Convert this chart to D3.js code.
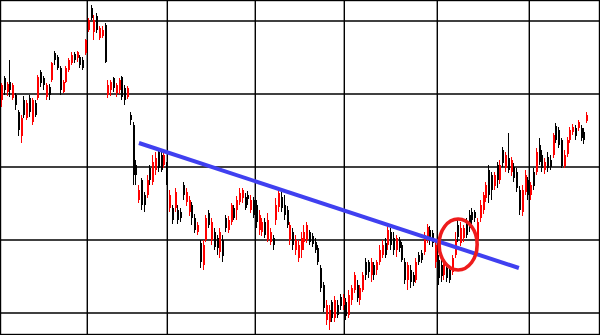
<!DOCTYPE html>
<html><head><meta charset="utf-8">
<script src="https://cdn.jsdelivr.net/npm/d3@7"></script>
<style>html,body{margin:0;padding:0;background:#fff;}svg{display:block;}</style>
</head><body>
<svg id="chart" width="600" height="335"></svg>
<script>
const openP = [31.3,33.5,32.1,33.1,31.5,31.8,30.1,27.7,31.3,29.5,
31.5,29.1,31.0,31.5,34.1,33.5,31.6,32.6,33.3,36.0,
35.6,34.5,32.1,33.1,34.3,35.0,35.9,35.5,35.6,35.3,
36.0,38.3,40.5,38.1,39.7,37.5,37.7,38.8,31.8,32.3,
33.5,32.0,32.3,33.6,32.5,31.6,29.8,28.8,24.8,21.3,
23.3,21.8,21.8,24.5,23.1,24.3,26.1,25.8,24.8,24.8,
20.5,20.5,20.5,20.3,20.1,22.8,21.1,20.1,20.8,19.5,
18.1,17.0,14.8,17.3,20.0,17.3,18.1,17.5,16.1,17.3,
19.5,18.3,19.1,20.5,20.3,21.1,21.5,21.6,21.8,20.3,
21.3,20.8,18.3,18.1,19.1,17.3,17.1,17.5,19.3,20.6,
21.6,20.8,20.3,17.3,18.1,16.3,15.5,16.3,17.1,17.3,
18.1,17.7,17.1,16.5,14.5,12.8,9.3,9.1,11.1,9.5,
10.8,11.6,10.8,11.1,9.8,11.3,12.3,12.8,11.3,12.3,
15.1,15.1,13.8,14.8,14.3,15.1,15.8,17.0,16.8,18.1,
17.5,16.3,17.3,16.8,15.1,13.3,14.3,13.8,13.3,15.8,
16.0,16.1,17.3,18.3,18.0,15.1,15.3,14.8,13.8,14.5,
14.3,14.1,15.8,18.8,17.0,17.5,19.1,19.8,20.1,20.1,
17.3,19.5,20.3,21.5,24.3,23.8,22.7,24.8,23.3,26.3,
24.5,25.5,24.1,24.6,24.1,22.3,20.1,22.1,23.3,21.8,
24.1,24.1,26.8,25.8,24.3,25.6,25.3,25.8,28.7,28.3,
27.3,24.7,25.9,27.3,28.1,28.5,28.5,28.5,28.1,29.2];
const highP = [33.0,33.7,33.1,35.3,33.0,32.0,30.3,29.8,31.7,31.3,
31.8,31.5,31.3,33.8,34.3,33.7,33.0,32.9,35.1,36.2,
35.8,34.7,33.3,34.7,35.5,36.1,36.1,36.2,35.8,35.6,
37.4,39.5,40.8,39.8,40.0,38.7,38.7,39.0,33.3,33.3,
33.6,33.0,33.5,33.7,32.8,32.7,30.1,29.1,25.3,22.8,
23.5,22.1,23.8,24.8,25.8,26.1,26.3,26.3,26.3,25.1,
22.3,20.8,22.5,20.8,20.5,23.1,22.5,21.7,21.1,19.9,
19.1,17.3,17.3,19.8,20.3,19.5,18.5,17.8,18.5,17.8,
19.8,19.7,21.0,20.8,21.7,22.5,22.5,22.0,22.2,21.8,
21.6,21.3,20.3,19.5,19.5,20.0,18.5,17.8,21.5,22.3,
22.1,21.8,20.7,19.1,18.5,17.8,17.3,18.1,18.8,19.1,
18.3,18.0,17.5,16.8,14.8,13.1,11.3,10.8,11.3,11.7,
11.3,11.9,11.9,11.5,12.3,12.8,14.1,13.3,12.8,14.1,
15.5,15.3,15.5,15.1,15.3,16.8,17.3,17.5,18.7,18.5,
18.1,17.8,17.6,17.1,15.5,15.1,14.8,14.1,15.5,16.1,
16.3,18.1,18.9,18.7,18.3,17.1,15.8,15.3,15.5,14.8,
14.7,15.8,18.1,19.3,19.1,18.8,19.5,20.3,20.5,20.3,
19.5,21.3,22.1,23.1,24.8,24.1,24.1,25.1,25.3,26.6,
26.1,28.0,25.6,25.0,24.5,22.7,22.8,24.3,23.6,23.1,
24.5,26.5,27.5,26.3,25.5,26.1,25.8,28.0,29.0,28.6,
27.5,26.3,27.6,28.6,28.9,28.8,29.3,28.8,28.5,30.1];
const lowP = [30.6,31.8,31.7,31.6,31.3,30.3,27.7,27.0,29.5,29.3,
29.6,28.8,29.6,31.3,32.6,32.3,31.3,31.3,33.1,34.8,
34.3,31.8,32.0,33.0,34.1,34.8,35.0,35.1,34.5,34.3,
35.8,38.1,39.3,37.3,38.0,37.3,37.5,35.0,31.5,31.7,
32.1,31.6,31.9,31.3,30.8,31.4,28.8,22.8,22.8,21.0,
20.3,20.1,21.5,22.8,22.8,23.8,24.1,24.1,24.5,22.8,
20.1,18.9,20.1,18.9,19.1,21.3,20.7,19.7,18.8,18.0,
17.8,14.5,14.3,17.1,18.5,16.8,16.3,15.8,15.5,15.1,
18.1,18.0,18.8,19.3,19.3,20.8,21.0,20.3,20.8,20.0,
19.5,18.5,17.8,17.7,17.5,17.1,16.8,16.3,18.8,20.1,
20.1,19.3,18.5,16.8,16.3,15.8,15.1,15.5,16.3,17.0,
16.8,16.6,16.0,14.8,12.1,10.1,8.8,8.3,9.1,9.1,
9.5,10.3,10.3,9.3,9.5,10.8,12.0,11.1,10.8,12.1,
13.3,13.5,13.1,13.3,13.8,14.8,15.5,15.5,16.3,16.3,
15.8,15.6,16.1,15.1,12.9,12.3,12.5,12.7,13.0,14.8,
15.0,15.8,17.0,16.8,16.6,14.5,12.8,13.1,13.3,13.1,
13.0,13.8,15.5,17.1,16.7,17.1,17.5,18.1,18.9,19.1,
16.5,19.1,19.9,21.1,21.0,21.3,22.3,22.5,22.9,24.6,
24.1,24.0,23.7,23.1,22.1,19.8,19.7,21.8,21.3,21.3,
22.3,23.8,24.8,24.1,23.9,24.1,24.3,25.5,27.0,26.5,
24.5,24.5,25.6,27.0,27.8,27.3,28.2,27.2,26.9,29.0];
const closeP = [32.8,32.3,32.9,32.3,32.8,30.8,28.3,29.5,29.8,31.0,
30.1,31.3,29.8,33.6,33.0,32.8,32.8,31.8,35.0,35.3,
34.5,32.3,33.1,34.5,35.3,35.8,35.3,36.1,34.8,34.5,
37.3,39.3,39.5,39.3,38.3,38.5,38.3,35.1,32.8,33.1,
32.5,32.8,33.3,31.6,31.3,32.5,29.3,23.8,23.8,22.3,
20.8,20.8,23.3,23.3,25.1,25.5,24.5,24.3,25.8,23.3,
21.8,19.3,22.1,19.3,19.5,21.8,22.1,21.3,19.5,18.3,
18.8,15.1,16.8,19.5,18.8,19.1,16.6,16.5,18.1,15.7,
18.5,19.3,20.8,19.5,21.3,22.0,22.3,20.5,21.4,21.3,
19.8,19.1,19.8,19.1,17.8,19.3,18.1,16.8,20.8,22.0,
20.5,19.8,18.8,18.8,16.8,17.3,16.8,17.5,18.1,18.8,
17.1,16.9,16.3,15.1,12.5,10.5,10.8,10.3,9.5,11.3,
9.8,10.7,11.5,9.7,11.8,12.5,13.8,11.5,12.5,13.8,
13.8,14.1,15.1,13.8,15.1,16.3,16.8,15.8,18.3,16.8,
16.3,17.5,16.5,15.3,13.3,14.8,13.1,13.1,15.1,15.1,
15.3,17.8,18.6,17.3,17.0,16.8,13.5,13.7,15.1,13.5,
13.3,15.5,17.3,17.6,18.5,18.5,17.8,18.5,19.3,19.5,
19.1,20.8,21.8,22.8,21.8,22.3,23.8,23.3,24.8,25.0,
25.8,24.3,25.3,23.5,22.5,20.3,22.3,23.8,21.8,22.8,
22.7,26.1,25.1,24.5,25.1,24.5,24.6,27.8,27.3,26.8,
24.7,25.8,27.3,28.3,28.6,27.7,29.1,27.5,27.3,29.8];

// grid ticks (price levels and period breaks in candle-index units)
const priceTicks = [10.0, 17.3, 24.6, 31.9, 39.2];
const periodBreaks = [30.46, 59.04, 90.46, 122.25, 155.46, 188.32];

// annotations
const trendIdx = [48.9, 184.6];
const trendPrice = [27.0, 14.5];
const circleIdx = 162.9, circlePrice = 16.85, circleRIdx = 6.8, circleRPrice = 2.55;

const W = 600, H = 335;
const svg = d3.select("#chart");
const n = closeP.length;
const x = d3.scaleLinear().domain([0, n - 1]).range([2, 587.2]);
const y = d3.scaleLinear().domain([7.8, 41.3]).range([H, 0]);

svg.append("rect").attr("width", W).attr("height", H).attr("fill", "#fff");

const grid = svg.append("g").attr("stroke", "#000").attr("stroke-width", 1.4);
grid.selectAll("line.h").data(priceTicks).join("line")
  .attr("x1", 0).attr("x2", W).attr("y1", d => y(d)).attr("y2", d => y(d));
grid.selectAll("line.v").data(periodBreaks).join("line")
  .attr("y1", 0).attr("y2", H).attr("x1", d => x(d)).attr("x2", d => x(d));
svg.append("rect").attr("x", 0.5).attr("y", 0.5).attr("width", W - 1).attr("height", H - 1)
  .attr("fill", "none").attr("stroke", "#000").attr("stroke-width", 1.4);

const data = d3.range(n).map(i => ({i, o: openP[i], h: highP[i], l: lowP[i], c: closeP[i]}));
const candles = svg.append("g").selectAll("g").data(data).join("g")
  .attr("fill", d => d.c >= d.o ? "#ff0000" : "#000000")
  .attr("stroke", d => d.c >= d.o ? "#ff0000" : "#000000");
candles.append("line")
  .attr("x1", d => Math.round(x(d.i)) - 0.5).attr("x2", d => Math.round(x(d.i)) - 0.5)
  .attr("y1", d => y(d.h)).attr("y2", d => y(d.l)).attr("stroke-width", 1);
candles.append("rect")
  .attr("stroke", "none")
  .attr("x", d => Math.round(x(d.i)) - 1).attr("width", 2)
  .attr("y", d => y(Math.max(d.o, d.c)))
  .attr("height", d => Math.max(1, Math.abs(y(d.o) - y(d.c))));

svg.append("line")
  .attr("x1", x(trendIdx[0])).attr("y1", y(trendPrice[0]))
  .attr("x2", x(trendIdx[1])).attr("y2", y(trendPrice[1]))
  .attr("stroke", "#4040f0").attr("stroke-width", 4);

svg.append("ellipse")
  .attr("cx", x(circleIdx)).attr("cy", y(circlePrice))
  .attr("rx", x(circleIdx + circleRIdx) - x(circleIdx))
  .attr("ry", y(circlePrice - circleRPrice) - y(circlePrice))
  .attr("fill", "none").attr("stroke", "#ee1c1c").attr("stroke-width", 3.6);
</script>
</body></html>
